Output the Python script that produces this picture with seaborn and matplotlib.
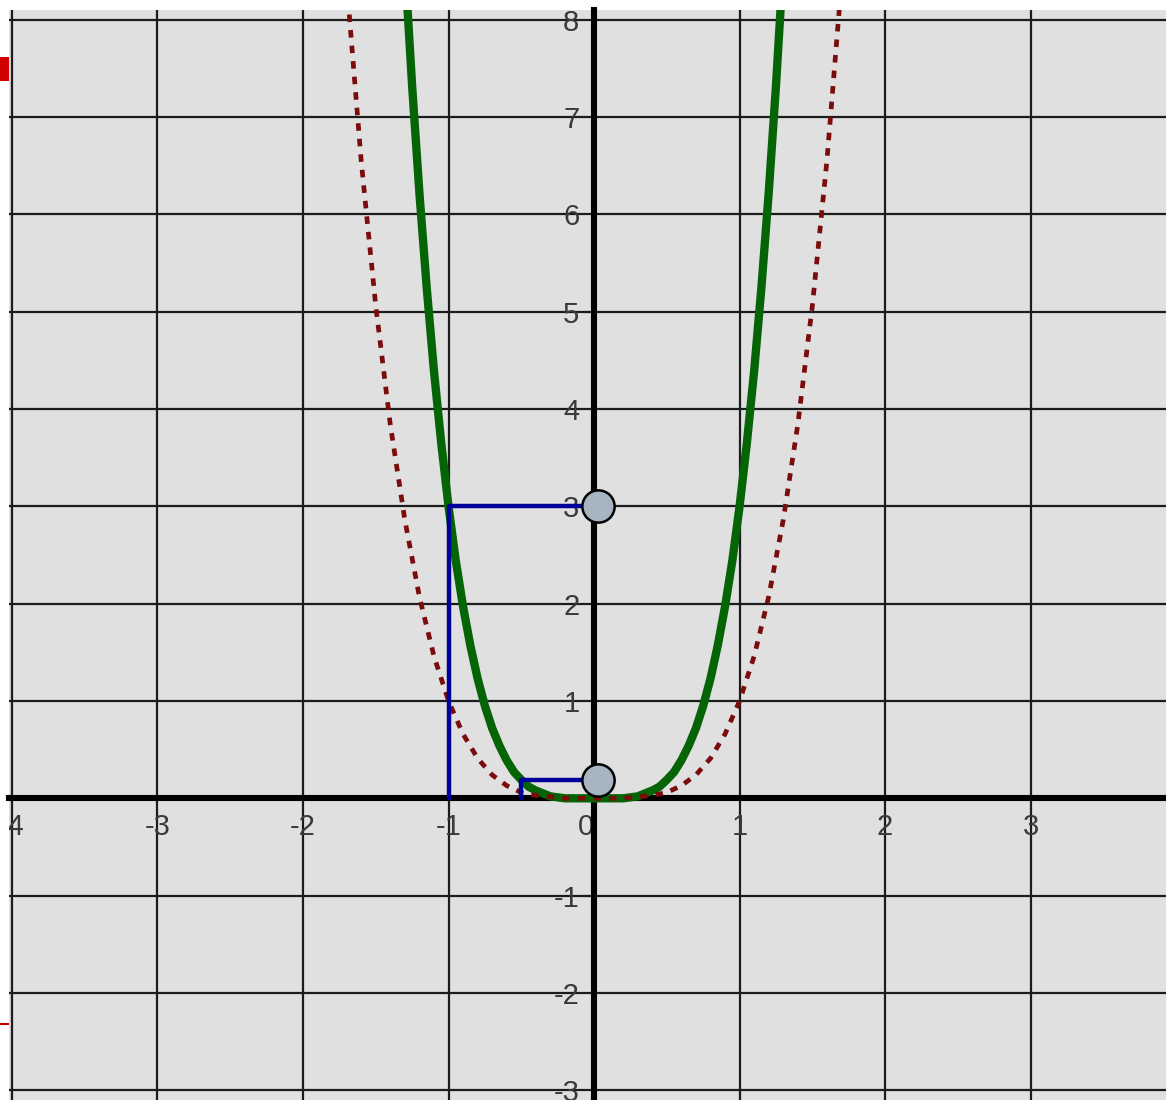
import matplotlib
matplotlib.use("Agg")
import matplotlib.pyplot as plt
from matplotlib.patches import Rectangle
import seaborn as sns

# ---- data ----
green_x = [-1.30, -1.25, -1.20, -1.15, -1.10, -1.05, -1.00, -0.95, -0.90, -0.85, -0.80, -0.75, -0.70,
           -0.65, -0.60, -0.55, -0.50, -0.45, -0.40, -0.30, -0.20, 0.00,
           0.20, 0.30, 0.40, 0.45, 0.50, 0.55, 0.60, 0.65, 0.70, 0.75, 0.80, 0.85, 0.90, 0.95,
           1.00, 1.05, 1.10, 1.15, 1.20, 1.25, 1.30]
green_y = [8.57, 7.32, 6.22, 5.25, 4.39, 3.65, 3.00, 2.44, 1.97, 1.57, 1.23, 0.95, 0.72,
           0.54, 0.39, 0.27, 0.19, 0.12, 0.08, 0.02, 0.00, 0.00,
           0.00, 0.02, 0.08, 0.12, 0.19, 0.27, 0.39, 0.54, 0.72, 0.95, 1.23, 1.57, 1.97, 2.44,
           3.00, 3.65, 4.39, 5.25, 6.22, 7.32, 8.57]

red_x = [-1.72, -1.60, -1.50, -1.40, -1.30, -1.20, -1.10, -1.00, -0.90, -0.80, -0.70, -0.60, -0.50, -0.40, -0.20, 0.00,
         0.20, 0.40, 0.50, 0.60, 0.70, 0.80, 0.90, 1.00, 1.10, 1.20, 1.30, 1.40, 1.50, 1.60, 1.72]
red_y = [8.75, 6.55, 5.06, 3.84, 2.86, 2.07, 1.46, 1.00, 0.66, 0.41, 0.24, 0.13, 0.06, 0.03, 0.00, 0.00,
         0.00, 0.03, 0.06, 0.13, 0.24, 0.41, 0.66, 1.00, 1.46, 2.07, 2.86, 3.84, 5.06, 6.55, 8.75]

blue1_x = [-1.00, -1.00, 0.00]
blue1_y = [0.00, 3.00, 3.00]
blue2_x = [-0.50, -0.50, 0.00]
blue2_y = [0.00, 0.19, 0.19]

pts_x = [0.03, 0.03]
pts_y = [3.00, 0.19]

xticks = [-4, -3, -2, -1, 0, 1, 2, 3]
xlabels = ["-4", "-3", "-2", "-1", "0", "1", "2", "3"]
yticks = [-3, -2, -1, 0, 1, 2, 3, 4, 5, 6, 7, 8]
ylabels = ["-3", "-2", "-1", "", "1", "2", "3", "4", "5", "6", "7", "8"]

sns.set_style("white")
plt.rcParams["font.family"] = ["Liberation Sans Narrow", "Liberation Sans", "DejaVu Sans"]

W, H = 1166, 1100
fig = plt.figure(figsize=(W / 100, H / 100), dpi=100, facecolor="white")
ax = fig.add_axes([9 / W, 0, (W - 9) / W, (H - 10) / H])
ax.set_facecolor("#e0e0e0")

ax.set_xlim(-4.02, 3.93)
ax.set_ylim(-3.10, 8.10)

# grid
ax.set_axisbelow(True)
ax.set_xticks(xticks)
ax.set_yticks(yticks)
ax.grid(True, color="#1c1c1c", linewidth=1.6)

# axes through origin
for s in ["top", "right"]:
    ax.spines[s].set_visible(False)
ax.spines["left"].set_position(("data", 0))
ax.spines["bottom"].set_position(("data", 0))
for s in ["left", "bottom"]:
    ax.spines[s].set_linewidth(4.4)
    ax.spines[s].set_color("black")

ax.set_xticklabels(xlabels)
ax.set_yticklabels(ylabels)
ax.tick_params(axis="both", direction="inout", length=11, width=5.5, color="black",
               labelsize=21, labelcolor="#3a3a3a", pad=5)

for t in ax.get_xticklabels():
    if t.get_text() == "0":
        t.set_horizontalalignment("right")
for t in ax.get_xticklabels() + ax.get_yticklabels():
    t.set_clip_box(ax.bbox)
    t.set_clip_on(True)

# curves
sns.lineplot(x=green_x, y=green_y, ax=ax, color="#056405", linewidth=6.0,
             estimator=None, sort=False, zorder=4)
sns.lineplot(x=red_x, y=red_y, ax=ax, color="#7a0c0c", linewidth=3.4,
             linestyle=(0, (1.6, 1.7)), dash_capstyle="butt",
             estimator=None, sort=False, zorder=5)
sns.lineplot(x=blue1_x, y=blue1_y, ax=ax, color="#00009a", linewidth=3.2,
             estimator=None, sort=False, zorder=6)
sns.lineplot(x=blue2_x, y=blue2_y, ax=ax, color="#00009a", linewidth=3.2,
             estimator=None, sort=False, zorder=6)
sns.scatterplot(x=pts_x, y=pts_y, ax=ax, s=540, color="#a7b5c3",
                edgecolor="black", linewidth=1.8, zorder=7)

ax.set_xlabel("")
ax.set_ylabel("")
if ax.get_legend() is not None:
    ax.get_legend().remove()

# small red marks at the left edge of the picture
fig.add_artist(Rectangle((0, 1 - 81 / H), 9 / W, 24 / H, transform=fig.transFigure,
                         facecolor="#d00000", edgecolor="none"))
fig.add_artist(Rectangle((0, 1 - 1025 / H), 9 / W, 2 / H, transform=fig.transFigure,
                         facecolor="#c00000", edgecolor="none"))

fig.savefig("out.png", dpi=100, facecolor="white")
